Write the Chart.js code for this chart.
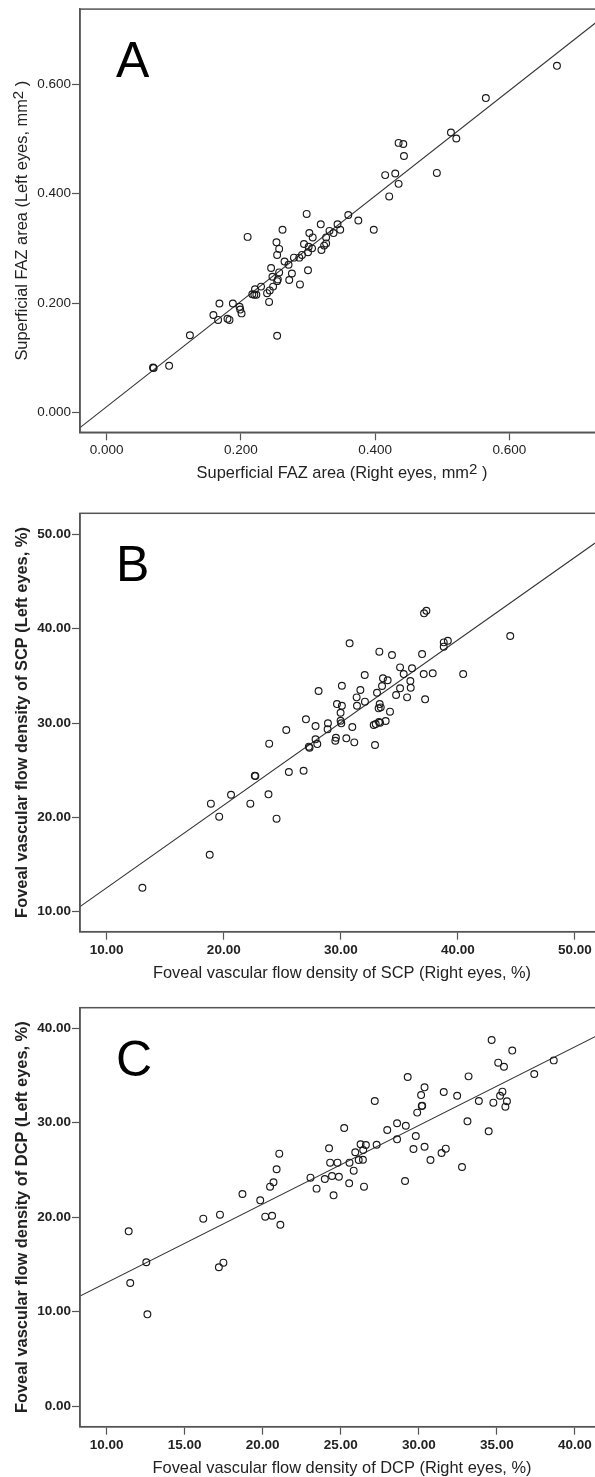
<!DOCTYPE html>
<html>
<head>
<meta charset="utf-8">
<script src="https://cdn.jsdelivr.net/npm/chart.js@4.4.1/dist/chart.umd.min.js"></script>
<style>
html,body{margin:0;padding:0;background:#fff;overflow:hidden;width:595px;height:1477px;}
.panel{position:absolute;left:0;width:620px;}
</style>
</head>
<body>
<div class="panel" style="top:0;height:495px"><canvas id="chartA"></canvas></div>
<div class="panel" style="top:500px;height:490px"><canvas id="chartB"></canvas></div>
<div class="panel" style="top:990px;height:487px"><canvas id="chartC"></canvas></div>
<script>
// panel A: superficial FAZ area, right eye (x) vs left eye (y)
const aRight=[0.671,0.565,0.513,0.521,0.435,0.442,0.443,0.492,0.415,0.430,0.435,0.421,0.360,0.375,0.398,
  0.298,0.210,0.262,0.319,0.344,0.302,0.307,0.332,0.338,0.348,0.327,0.327,0.324,0.320,0.294,0.301,0.306,
  0.300,0.291,0.287,0.279,0.253,0.257,0.254,0.265,0.271,0.276,0.300,0.288,0.272,0.245,0.247,0.257,0.254,
  0.255,0.248,0.243,0.239,0.230,0.221,0.217,0.220,0.223,0.242,0.188,0.168,0.198,0.199,0.201,0.159,0.166,
  0.180,0.183,0.254,0.124,0.069,0.070,0.093];
const aLeft=[0.634,0.575,0.512,0.501,0.493,0.491,0.469,0.438,0.434,0.437,0.418,0.395,0.361,0.351,0.334,
  0.363,0.321,0.334,0.344,0.344,0.328,0.320,0.332,0.328,0.334,0.320,0.309,0.305,0.297,0.308,0.303,0.300,
  0.293,0.288,0.283,0.283,0.311,0.299,0.288,0.276,0.270,0.254,0.260,0.234,0.242,0.264,0.248,0.256,0.240,
  0.243,0.230,0.223,0.218,0.230,0.225,0.216,0.215,0.215,0.202,0.199,0.199,0.193,0.188,0.181,0.178,0.169,
  0.171,0.169,0.140,0.141,0.082,0.081,0.085];
const aFit=[0.0102,0.964]; // intercept, slope
const aTicks=[0,0.2,0.4,0.6];

// panel B: foveal flow density SCP
const bRight=[37.11,37.31,30.75,33.29,34.37,36.94,38.79,39.14,38.79,40.45,32.04,35.06,36.08,35.37,37.08,
  37.85,33.6,34.0,35.94,35.97,35.06,33.52,33.09,34.72,35.66,37.2,30.09,28.1,31.67,31.35,32.06,31.38,29.67,
  30.09,29.98,33.32,33.41,33.23,34.2,27.02,29.98,30.04,28.9,27.84,28.87,30.98,32.81,32.98,33.26,33.35,33.83,
  25.34,27.84,27.99,27.27,27.33,29.58,29.53,30.47,31.15,32.92,23.88,22.65,22.7,25.56,26.82,23.82,
  44.47,20.62,18.9,22.27,19.61,24.51,18.8,13.05];
const bLeft=[41.63,41.9,38.45,37.56,37.21,37.31,38.55,38.72,38.09,35.19,35.09,35.9,35.8,35.19,35.19,
  35.27,34.74,34.53,34.45,33.74,33.68,33.92,33.21,32.97,32.72,32.51,33.95,33.39,33.5,32.72,32.26,31.83,32.01,
  31.83,31.09,32.01,31.66,31.56,31.2,30.39,30.24,29.97,29.97,29.68,29.33,29.58,29.79,29.89,30.11,30.03,30.21,
  29.26,28.27,27.77,27.49,27.38,28.44,28.12,28.38,27.95,27.67,27.81,24.41,24.38,24.81,24.94,22.44,
  39.22,22.4,21.45,21.45,20.07,19.86,16.04,12.54];
const bFit=[3.77,0.876];
const bTicks=[10,20,30,40,50];

// panel C: foveal flow density DCP
const cRight=[34.67,35.99,35.09,35.46,38.65,37.4,29.29,33.19,30.37,31.6,30.15,32.46,35.36,35.21,33.85,
  34.78,35.65,35.55,27.18,30.19,30.22,29.9,33.12,34.48,25.22,27.98,28.61,29.17,28.61,29.81,29.66,30.37,31.73,
  31.46,30.75,32.77,29.12,27.3,26.27,26.61,26.44,25.93,26.15,26.42,25.56,24.25,24.32,24.79,25.83,24.44,
  24.88,23.98,23.06,25.54,26.49,23.45,24.54,21.06,20.89,20.69,20.47,18.7,19.84,17.26,16.19,20.16,20.6,
  11.41,12.54,11.51,12.61,17.19,17.48,21.13];
const cLeft=[38.76,37.64,36.36,35.93,36.6,35.16,34.84,34.91,33.75,33.25,32.93,32.86,33.29,32.86,32.3,
  32.12,32.27,31.7,32.3,31.77,31.8,31.07,30.15,29.09,29.44,29.23,29.94,29.68,28.24,28.59,27.22,27.46,27.25,
  26.79,26.05,25.31,23.83,27.67,27.71,27.64,27.11,26.87,26.05,26.08,25.77,27.29,25.77,25.77,24.92,24.36,
  24.28,24.04,24.18,23.58,23.23,23.02,22.31,26.72,25.07,23.69,23.23,22.45,21.78,20.26,19.84,20.05,20.15,
  18.5,15.22,13.03,9.71,14.69,15.18,19.2];
const cFit=[4.75,0.832];
const cTicksX=[10,15,20,25,30,35,40];
const cTicksY=[0,10,20,30,40];

const FONT='"Liberation Sans", Arial, Helvetica, sans-serif';
const INK='#222';
const AXIS='#555';

const framePlugin={
  id:'frame',
  afterDraw(chart){
    const o=chart.options.plugins.frame;
    const a=chart.chartArea, ctx=chart.ctx;
    ctx.save();
    ctx.strokeStyle=AXIS; ctx.lineWidth=1.5;
    ctx.strokeRect(a.left,a.top,a.right-a.left,a.bottom-a.top);
    ctx.fillStyle='#000';
    ctx.font='50px '+FONT;
    ctx.textAlign='left'; ctx.textBaseline='alphabetic';
    ctx.fillText(o.letter,a.left+36,a.top+68);
    ctx.fillStyle=INK;
    // x title
    drawParts(ctx,o.xTitle,(a.left+a.right)/2,a.bottom+o.xTitleGap,o.xWeight);
    // y title
    ctx.translate(o.yTitleX,(a.top+a.bottom)/2);
    ctx.rotate(-Math.PI/2);
    drawParts(ctx,o.yTitle,0,0,o.yWeight);
    ctx.restore();
  }
};

function drawParts(ctx,parts,cx,cy,weight){
  const size=16.4;
  const main=weight+' '+size+'px '+FONT;
  const sup=weight+' '+(size*0.92)+'px '+FONT;
  let w=0;
  parts.forEach(p=>{ctx.font=p.sup?sup:main;w+=ctx.measureText(p.t).width;});
  let x=cx-w/2;
  ctx.textAlign='left'; ctx.textBaseline='middle';
  parts.forEach(p=>{
    ctx.font=p.sup?sup:main;
    ctx.fillText(p.t,x,p.sup?cy-4:cy);
    x+=ctx.measureText(p.t).width;
  });
}

function makePanel(id,cfg){
  const pts=cfg.xs.map((x,i)=>({x:x,y:cfg.ys[i]}));
  const fitLine=[cfg.xMin,cfg.xMax].map(x=>({x:x,y:cfg.fit[0]+cfg.fit[1]*x}));
  const tickFont={family:FONT,size:13.5,weight:cfg.tickWeight};
  return new Chart(document.getElementById(id),{
    type:'scatter',
    data:{datasets:[
      {data:pts,pointRadius:3.4,pointBorderWidth:1.15,borderColor:'#1a1a1a',backgroundColor:'rgba(0,0,0,0)',pointStyle:'circle'},
      {type:'line',data:fitLine,showLine:true,pointRadius:0,borderColor:'#333',borderWidth:1.1,fill:false}
    ]},
    options:{
      responsive:true,maintainAspectRatio:false,animation:false,events:[],
      layout:{padding:{top:cfg.padTop,right:16,left:0,bottom:0}},
      plugins:{legend:{display:false},tooltip:{enabled:false},
        frame:{letter:cfg.letter,xTitle:cfg.xTitle,yTitle:cfg.yTitle,xTitleGap:41.5,yTitleX:22.5,
          xWeight:cfg.xWeight,yWeight:cfg.yWeight}},
      scales:{
        x:{type:'linear',min:cfg.xMin,max:cfg.xMax,
          afterBuildTicks:s=>{s.ticks=cfg.xTicks.map(v=>({value:v}));},
          afterFit:s=>{s.height=cfg.xHeight;},
          ticks:{callback:v=>v.toFixed(cfg.dec),color:INK,font:tickFont,padding:2,maxRotation:0,autoSkip:false},
          grid:{drawOnChartArea:false,drawTicks:true,tickLength:8,tickColor:AXIS,tickWidth:1.2},
          border:{color:AXIS,width:1.5}},
        y:{type:'linear',min:cfg.yMin,max:cfg.yMax,
          afterBuildTicks:s=>{s.ticks=cfg.yTicks.map(v=>({value:v}));},
          afterFit:s=>{s.width=80;},
          ticks:{callback:v=>v.toFixed(cfg.dec),color:INK,font:tickFont,padding:1,autoSkip:false},
          grid:{drawOnChartArea:false,drawTicks:true,tickLength:8,tickColor:AXIS,tickWidth:1.2},
          border:{color:AXIS,width:1.5}}
      }
    },
    plugins:[framePlugin]
  });
}

makePanel('chartA',{letter:'A',xs:aRight,ys:aLeft,fit:aFit,xTicks:aTicks,yTicks:aTicks,dec:3,
  xMin:-0.0398,xMax:0.7411,yMin:-0.0366,yMax:0.7378,padTop:9,xHeight:62.7,
  tickWeight:'normal',xWeight:'normal',yWeight:'normal',
  xTitle:[{t:'Superficial FAZ area (Right eyes, mm'},{t:'2',sup:true},{t:' )'}],
  yTitle:[{t:'Superficial FAZ area (Left eyes, mm'},{t:'2',sup:true},{t:' )'}]});

makePanel('chartB',{letter:'B',xs:bRight,ys:bLeft,fit:bFit,xTicks:bTicks,yTicks:bTicks,dec:2,
  xMin:7.72,xMax:52.48,yMin:7.88,yMax:52.23,padTop:13.3,xHeight:58.3,
  tickWeight:'bold',xWeight:'normal',yWeight:'bold',
  xTitle:[{t:'Foveal vascular flow density of SCP (Right eyes, %)'}],
  yTitle:[{t:'Foveal vascular flow density of SCP (Left eyes, %)'}]});

makePanel('chartC',{letter:'C',xs:cRight,ys:cLeft,fit:cFit,xTicks:cTicksX,yTicks:cTicksY,dec:2,
  xMin:8.29,xMax:41.87,yMin:-2.19,yMax:42.18,padTop:17.7,xHeight:50.3,
  tickWeight:'bold',xWeight:'normal',yWeight:'bold',
  xTitle:[{t:'Foveal vascular flow density of DCP (Right eyes, %)'}],
  yTitle:[{t:'Foveal vascular flow density of DCP (Left eyes, %)'}]});
</script>
</body>
</html>
